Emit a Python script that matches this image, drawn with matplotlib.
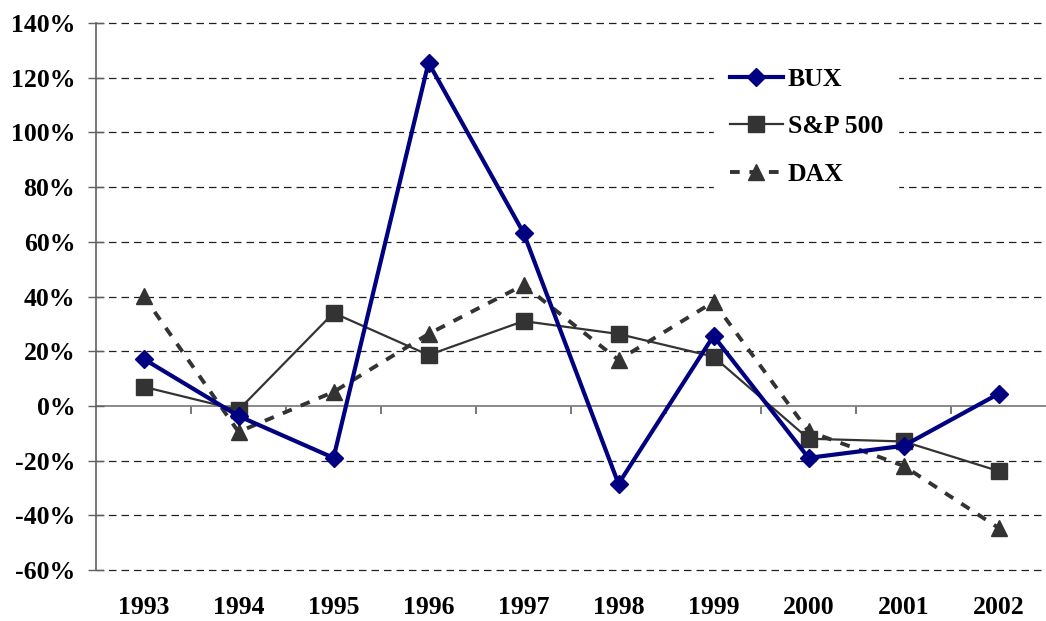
import matplotlib
matplotlib.use("Agg")
import matplotlib.pyplot as plt
from matplotlib.ticker import FuncFormatter

years = ["1993", "1994", "1995", "1996", "1997", "1998", "1999", "2000", "2001", "2002"]
bux = [17.2, -3.7, -19.0, 125.5, 63.3, -28.5, 25.6, -19.0, -14.6, 4.4]
sp500 = [7.0, -1.5, 34.0, 18.6, 31.0, 26.3, 18.0, -12.0, -13.0, -23.8]
dax = [40.2, -9.5, 5.1, 26.3, 44.2, 16.8, 38.0, -9.3, -21.9, -44.6]

plt.rcParams['font.family'] = ['Liberation Serif', 'DejaVu Serif']
plt.rcParams['font.weight'] = 'bold'

fig = plt.figure(figsize=(10.46, 6.21), dpi=100)
ax = fig.add_axes([96 / 1046, 1 - 570 / 621, (1046 - 96) / 1046, (570 - 23) / 621])

x = list(range(len(years)))
ax.plot(x, bux, color="#000080", lw=3.0, marker="D", ms=9.5, label="BUX", zorder=5)
ax.plot(x, sp500, color="#333333", lw=1.6, marker="s", ms=11, label="S&P 500", zorder=4)
ax.plot(x, dax, color="#333333", lw=2.8, ls=(0, (2.5, 2.5)), marker="^", ms=11.5,
        label="DAX", zorder=3)

ax.set_xlim(-0.5, len(years) - 0.5)
ax.set_ylim(-60, 140)
ax.set_yticks(range(-60, 141, 20))
ax.yaxis.set_major_formatter(FuncFormatter(lambda v, p: f"{v:.0f}%"))

# dashed grid, solid gray zero line
for yv in range(-60, 141, 20):
    if yv == 0:
        ax.axhline(0, color="#808080", lw=1.3, zorder=1)
    else:
        ax.axhline(yv, color="#202020", lw=0.9, ls=(0, (6, 4)), zorder=1, clip_on=False)

ax.set_xticks(x)
ax.set_xticklabels(years)
ax.tick_params(axis="x", length=0, pad=19, labelsize=18.5)
ax.tick_params(axis="y", length=12, direction="inout", width=1, color="#606060",
               pad=9, labelsize=18.5)
for s in ["top", "right", "bottom"]:
    ax.spines[s].set_visible(False)
ax.spines["left"].set_color("#606060")
ax.spines["left"].set_linewidth(1.2)

# category tick marks on the zero line
sec = ax.secondary_xaxis(0.3)
sec.set_xticks([i + 0.5 for i in x[:-1]])
sec.set_xticklabels([])
sec.tick_params(axis="x", length=6, direction="out", color="#606060", width=1.2)
sec.spines["bottom"].set_visible(False)

leg = ax.legend(loc="upper left", bbox_to_anchor=(0.651, 0.946), frameon=True,
                fancybox=False, edgecolor="white", facecolor="white", framealpha=1,
                handlelength=2.05, labelspacing=0.95, fontsize=18.5, borderpad=0.6,
                borderaxespad=0, handletextpad=0.2)
leg.set_zorder(10)

fig.savefig("out.png", dpi=100)
